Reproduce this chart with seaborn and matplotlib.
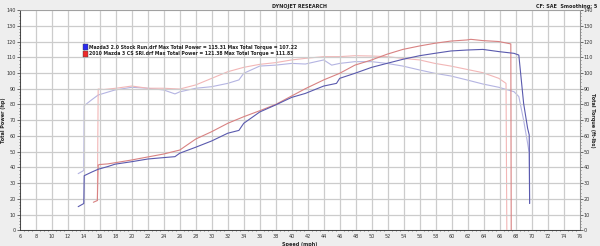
import matplotlib
matplotlib.use("Agg")
import matplotlib.pyplot as plt
import seaborn as sns
import pandas as pd
from matplotlib.patches import Rectangle
from matplotlib.ticker import MultipleLocator

# ---- data ----
blue_power_speed = [13.3, 14.0, 14.05, 15.0, 15.8, 17.0, 17.9, 20.0, 22.0, 24.0, 25.4, 26.0, 28.0, 30.0,
                    32.0, 33.4, 34.0, 36.0, 38.0, 40.0, 41.7, 44.0, 45.6, 46.0, 47.9, 50.0, 51.9, 53.9,
                    56.0, 57.9, 59.9, 61.9, 63.9, 65.9, 67.8, 68.4, 69.0, 69.5, 69.7, 69.75]
blue_power = [15, 17, 34.7, 37, 38.8, 40.5, 42, 43.6, 45.3, 46.2, 46.8, 49, 52.8, 56.8,
              61.7, 63.5, 68, 75.2, 79.7, 84.5, 87, 91.7, 93.4, 96.6, 99.8, 103.6, 106.1, 108.7,
              111, 112.5, 114, 114.6, 115, 113.6, 112.5, 111.4, 80.7, 64.8, 60.6, 17]

red_power_speed = [15.2, 15.7, 15.8, 16.0, 17.0, 18.0, 20.0, 22.0, 24.0, 26.0, 28.0, 30.0, 32.0, 34.0,
                   36.0, 38.0, 40.0, 41.7, 44.0, 46.0, 47.9, 50.0, 51.9, 53.9, 56.0, 57.9, 59.9, 61.9,
                   62.4, 63.9, 65.9, 67.0, 67.4, 67.45]
red_power = [17.8, 18.9, 41.5, 41.8, 42.2, 43, 44.7, 46.6, 48.5, 51, 58, 62.7, 68, 72.2,
             76, 80, 85.4, 90, 95.6, 99.8, 105, 108.3, 111.9, 115, 117.2, 118.9, 120.3, 121,
             121.4, 120.6, 120, 118.9, 118.5, 0]

blue_torque_speed = [13.3, 14.0, 14.05, 15.0, 15.8, 17.9, 20.0, 22.0, 24.0, 25.4, 26.0, 28.0, 30.0, 32.0,
                     33.4, 34.0, 36.0, 38.0, 40.0, 41.7, 44.0, 45.0, 46.0, 47.9, 50.0, 51.9, 53.9, 56.0,
                     57.9, 59.9, 61.9, 63.9, 65.9, 67.8, 68.4, 69.0, 69.5, 69.7, 69.75]
blue_torque = [36, 38, 79.2, 83, 86, 89.2, 90.9, 90.3, 89.2, 86.7, 88, 90.3, 91.3, 93.4,
               95.6, 99.8, 104.4, 105, 106.1, 105.7, 108.3, 105, 106.1, 107.2, 107.2, 106.1, 104.4, 101.9,
               99.8, 98.1, 95.6, 93, 90.9, 88.1, 85, 70, 55.3, 49, 17]

red_torque_speed = [15.7, 15.8, 16.5, 18.0, 20.0, 22.0, 24.0, 26.0, 28.0, 30.0, 32.0, 34.0, 36.0, 38.0,
                    40.0, 41.7, 44.0, 46.0, 47.9, 50.0, 51.9, 53.9, 56.0, 57.9, 59.9, 61.9, 63.9, 65.9,
                    66.8, 66.9]
red_torque = [18.9, 89.8, 89.5, 90.3, 91.7, 90.3, 90.3, 89.8, 92.4, 96.6, 100.8, 103.6, 105.5, 106.6,
              108.3, 109.3, 110.4, 110.4, 111, 110.8, 110.4, 109.3, 108.3, 106.1, 104.4, 102.3, 100.2, 96.6,
              93.4, 0]

x_ticks = list(range(6, 77, 2))
y_ticks = list(range(0, 141, 10))

legend_labels = ["Mazda3 2.0 Stock Run.drf Max Total Power = 115.31 Max Total Torque = 107.22",
                 "2010 Mazda 3 CS SRI.drf Max Total Power = 121.38 Max Total Torque = 111.83"]

# ---- figure ----
sns.set_style("white")
plt.rcParams['font.family'] = ['DejaVu Sans']
fig = plt.figure(figsize=(6.0, 2.46), dpi=100, facecolor='#eeeeee')
ax = fig.add_axes([0.033, 0.064, 0.933, 0.895])
ax2 = ax.twinx()

def df(s, v):
    return pd.DataFrame({"speed": s, "value": v})

sns.lineplot(data=df(blue_torque_speed, blue_torque), x="speed", y="value", ax=ax2,
             color='#b4b4e2', lw=0.8, sort=False, estimator=None)
sns.lineplot(data=df(red_torque_speed, red_torque), x="speed", y="value", ax=ax2,
             color='#f2b6b6', lw=0.8, sort=False, estimator=None)
sns.lineplot(data=df(red_power_speed, red_power), x="speed", y="value", ax=ax,
             color='#d88282', lw=0.8, sort=False, estimator=None)
sns.lineplot(data=df(blue_power_speed, blue_power), x="speed", y="value", ax=ax,
             color='#5a5aae', lw=0.8, sort=False, estimator=None)

for a in (ax, ax2):
    a.set_xlim(6, 76)
    a.set_ylim(0, 140)
    a.set_yticks(y_ticks)
    a.set_yticklabels([str(t) for t in y_ticks], fontsize=3.5)
    a.yaxis.set_minor_locator(MultipleLocator(2))
    a.tick_params(axis='y', which='major', length=2, width=0.5, pad=1, colors='#333333')
    a.tick_params(axis='y', which='minor', length=1, width=0.4, colors='#333333')
    for sp in a.spines.values():
        sp.set_color('#999999')
        sp.set_linewidth(0.6)

ax.set_xticks(x_ticks)
ax.set_xticklabels([str(t) for t in x_ticks], fontsize=3.5)
ax.xaxis.set_minor_locator(MultipleLocator(0.5))
ax.tick_params(axis='x', which='major', length=2, width=0.5, pad=1, colors='#333333')
ax.tick_params(axis='x', which='minor', length=1, width=0.4, colors='#333333', bottom=True)
ax.spines['left'].set_color('#333333')
ax.spines['bottom'].set_color('#333333')
ax2.spines['right'].set_color('#333333')

ax.grid(True, which='major', color='#cccccc', lw=0.9)
ax2.grid(False)
ax.set_axisbelow(True)
ax.set_zorder(ax2.get_zorder() + 1)
ax.patch.set_visible(False)
ax2.patch.set_visible(True)
ax2.patch.set_facecolor('white')
ax2.set_zorder(0)

ax.set_xlabel("Speed (mph)", fontsize=3.5, fontweight='bold', labelpad=2)
ax.set_ylabel("Total Power (hp)", fontsize=3.5, fontweight='bold')
ax.yaxis.set_label_coords(-0.024, 0.5)
ax2.set_ylabel("Total Torque (ft-lbs)", fontsize=3.5, fontweight='bold', rotation=270)
ax2.yaxis.set_label_coords(1.027, 0.5)

# header texts
fig.text(0.5, 0.985, "DYNOJET RESEARCH", ha='center', va='top', fontsize=3.5, fontweight='bold', color='#222222')
fig.text(0.996, 0.985, "CF: SAE  Smoothing: 5", ha='right', va='top', fontsize=3.5, fontweight='bold', color='#222222')

# legend
leg_colors = ['#2a2aee', '#ee2a2a']
for i, (lab, c) in enumerate(zip(legend_labels, leg_colors)):
    y = 0.808 - i * 0.026
    fig.patches.append(Rectangle((0.139, y - 0.012), 0.008, 0.024, transform=fig.transFigure,
                                 facecolor=c, edgecolor='#444444', lw=0.3))
    fig.text(0.149, y, lab, ha='left', va='center', fontsize=3.3, fontweight='bold', color='#222222')

fig.savefig("out.png", dpi=100, facecolor=fig.get_facecolor())
